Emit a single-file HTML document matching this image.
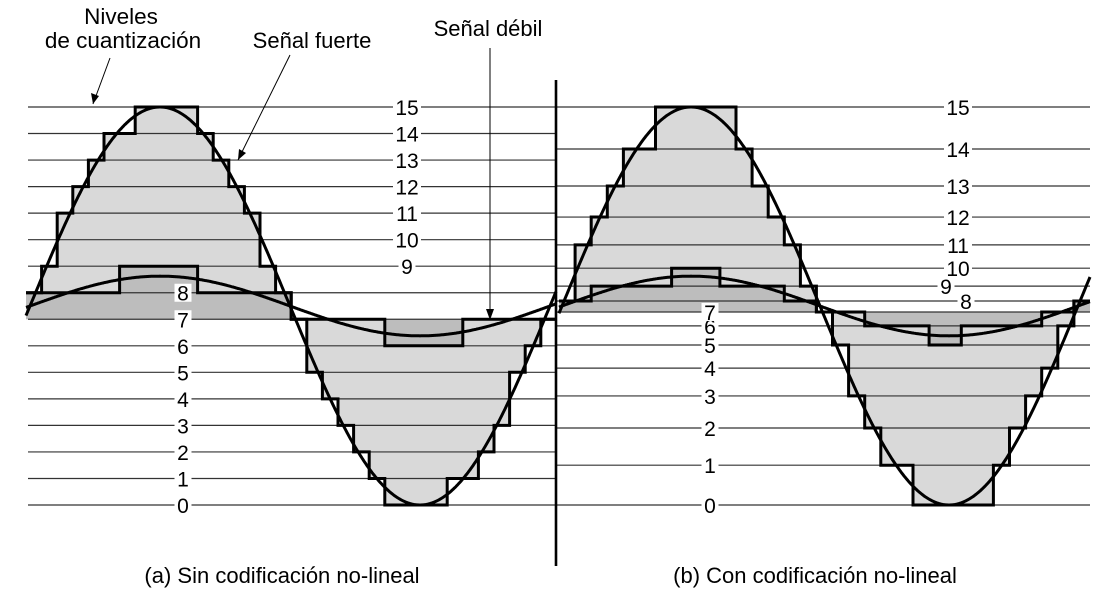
<!DOCTYPE html>
<html><head><meta charset="utf-8"><style>
html,body{margin:0;padding:0;background:#fff;}
svg{display:block;font-family:"Liberation Sans",Arial,sans-serif;}
</style></head><body>
<svg id="chart" width="1117" height="605" viewBox="0 0 1117 605" xmlns="http://www.w3.org/2000/svg">
<g id="fills"></g><g id="grid"></g><g id="marks"></g><g id="labels"></g>
<line x1="556" y1="80" x2="556" y2="566" stroke="#000" stroke-width="2.6"/>
<text x="121" y="24" font-size="22.5" text-anchor="middle">Niveles</text>
<text x="123" y="48" font-size="22.5" text-anchor="middle">de cuantización</text>
<line x1="110" y1="58" x2="93" y2="104" stroke="#000" stroke-width="1"/>
<path d="M93,104 L91,93 L99,96 Z" fill="#000"/>
<text x="312" y="48" font-size="22" text-anchor="middle">Señal fuerte</text>
<line x1="290" y1="55" x2="238" y2="160" stroke="#000" stroke-width="1"/>
<path d="M238,160 L239,149 L246,153 Z" fill="#000"/>
<text x="488" y="36" font-size="22" text-anchor="middle">Señal débil</text>
<line x1="490" y1="48" x2="490" y2="318" stroke="#000" stroke-width="1"/>
<path d="M490,320 L486,309 L494,309 Z" fill="#000"/>
<text x="282" y="583" font-size="22" text-anchor="middle">(a) Sin codificación no-lineal</text>
<text x="815" y="583" font-size="22" text-anchor="middle">(b) Con codificación no-lineal</text>
</svg>
<script>
// Data
const leftLevels = [0,1,2,3,4,5,6,7,8,9,10,11,12,13,14,15];
const rightLevels = [-1.0,-0.80,-0.613,-0.452,-0.312,-0.196,-0.10,-0.03,0.025,0.10,0.19,0.307,0.447,0.603,0.789,1.0];
const levelLabels = ["0","1","2","3","4","5","6","7","8","9","10","11","12","13","14","15"];
const strongAmplitude = 1.0;
const weakAmplitude = 0.15;
const leftLabelX = [183,183,183,183,183,183,183,183,183,407,407,407,407,407,407,407];
const rightLabelX = [710,710,710,710,710,710,710,710,966,946,958,958,958,958,958,958];

const NS="http://www.w3.org/2000/svg";
function mk(tag,attrs,parent){const e=document.createElementNS(NS,tag);for(const k in attrs)e.setAttribute(k,attrs[k]);parent.appendChild(e);return e;}
const gFill=document.getElementById('fills'),gGrid=document.getElementById('grid'),gMarks=document.getElementById('marks'),gLab=document.getElementById('labels');

const panels=[
 {name:'a',x0:26,x1:556,dx:15.6,phase0:30,period:520,
  yOfS:s=>306-199*s, levelS:leftLevels.map(v=>(v-7.5)/7.5), labelX:leftLabelX, lineX0:28,lineX1:556, base:7},
 {name:'b',x0:559,x1:1090,dx:16.09,phase0:562,period:516,
  yOfS:s=>306-199*s, levelS:rightLevels.slice(), labelX:rightLabelX, lineX0:556,lineX1:1090, base:7}
];

function quant(levelS,s){
  let best=0,bd=1e9;
  for(let i=0;i<levelS.length;i++){const d=Math.abs(levelS[i]-s);if(d<bd){bd=d;best=i;}}
  return best;
}

panels.forEach(p=>{
  const sig=(x,a)=>a*Math.sin(2*Math.PI*(x-p.phase0)/p.period);
  const baseY=p.yOfS(p.levelS[p.base]);
  p.levelS.forEach((s,i)=>{
    const ln=mk('line',{x1:p.lineX0,x2:p.lineX1,y1:p.yOfS(s),y2:p.yOfS(s),stroke:'#333','stroke-width':1.2},gGrid);
    
    
  });
  [[strongAmplitude,'#d9d9d9','strong'],[weakAmplitude,'#bdbdbd','weak']].forEach(([amp,col,nm])=>{
    const n=Math.round((p.x1-p.x0)/p.dx);
    let d='',fd='M'+p.x0+','+baseY;
    for(let i=0;i<n;i++){
      const xa=p.x0+i*p.dx, xb=xa+p.dx, xc=(xa+xb)/2;
      const y=p.yOfS(p.levelS[quant(p.levelS,sig(xc,amp))]);
      d+=(i===0?'M':'L')+xa.toFixed(1)+','+y.toFixed(1)+' L'+xb.toFixed(1)+','+y.toFixed(1)+' ';
      fd+=' L'+xa.toFixed(1)+','+y.toFixed(1)+' L'+xb.toFixed(1)+','+y.toFixed(1);
    }
    fd+=' L'+(p.x0+n*p.dx).toFixed(1)+','+baseY+' Z';
    const f=mk('path',{d:fd,fill:col,stroke:'none'},gFill);
    
    
    const st=mk('path',{d:d,fill:'none',stroke:'#000','stroke-width':3,'stroke-linejoin':'miter'},gMarks);
    
    
    let cd='';
    for(let x=p.x0;x<=p.x1;x+=1){cd+=(x===p.x0?'M':'L')+x+','+p.yOfS(sig(x,amp)).toFixed(1)+' ';}
    const cv=mk('path',{d:cd,fill:'none',stroke:'#000','stroke-width':3},gMarks);
    
    
  });
  p.levelS.forEach((s,i)=>{
    const y=p.yOfS(s), x=p.labelX[i];
    const w=levelLabels[i].length>1?24:13;
    const r=mk('rect',{x:x-w/2-2,y:y-9,width:w+4,height:18,fill:'#fff'},gLab);
    
    
    const t=mk('text',{x:x,y:y+8,'font-size':21,'text-anchor':'middle',fill:'#000'},gLab);
    t.textContent=levelLabels[i];
    
    
  });
});
</script>
</body></html>
